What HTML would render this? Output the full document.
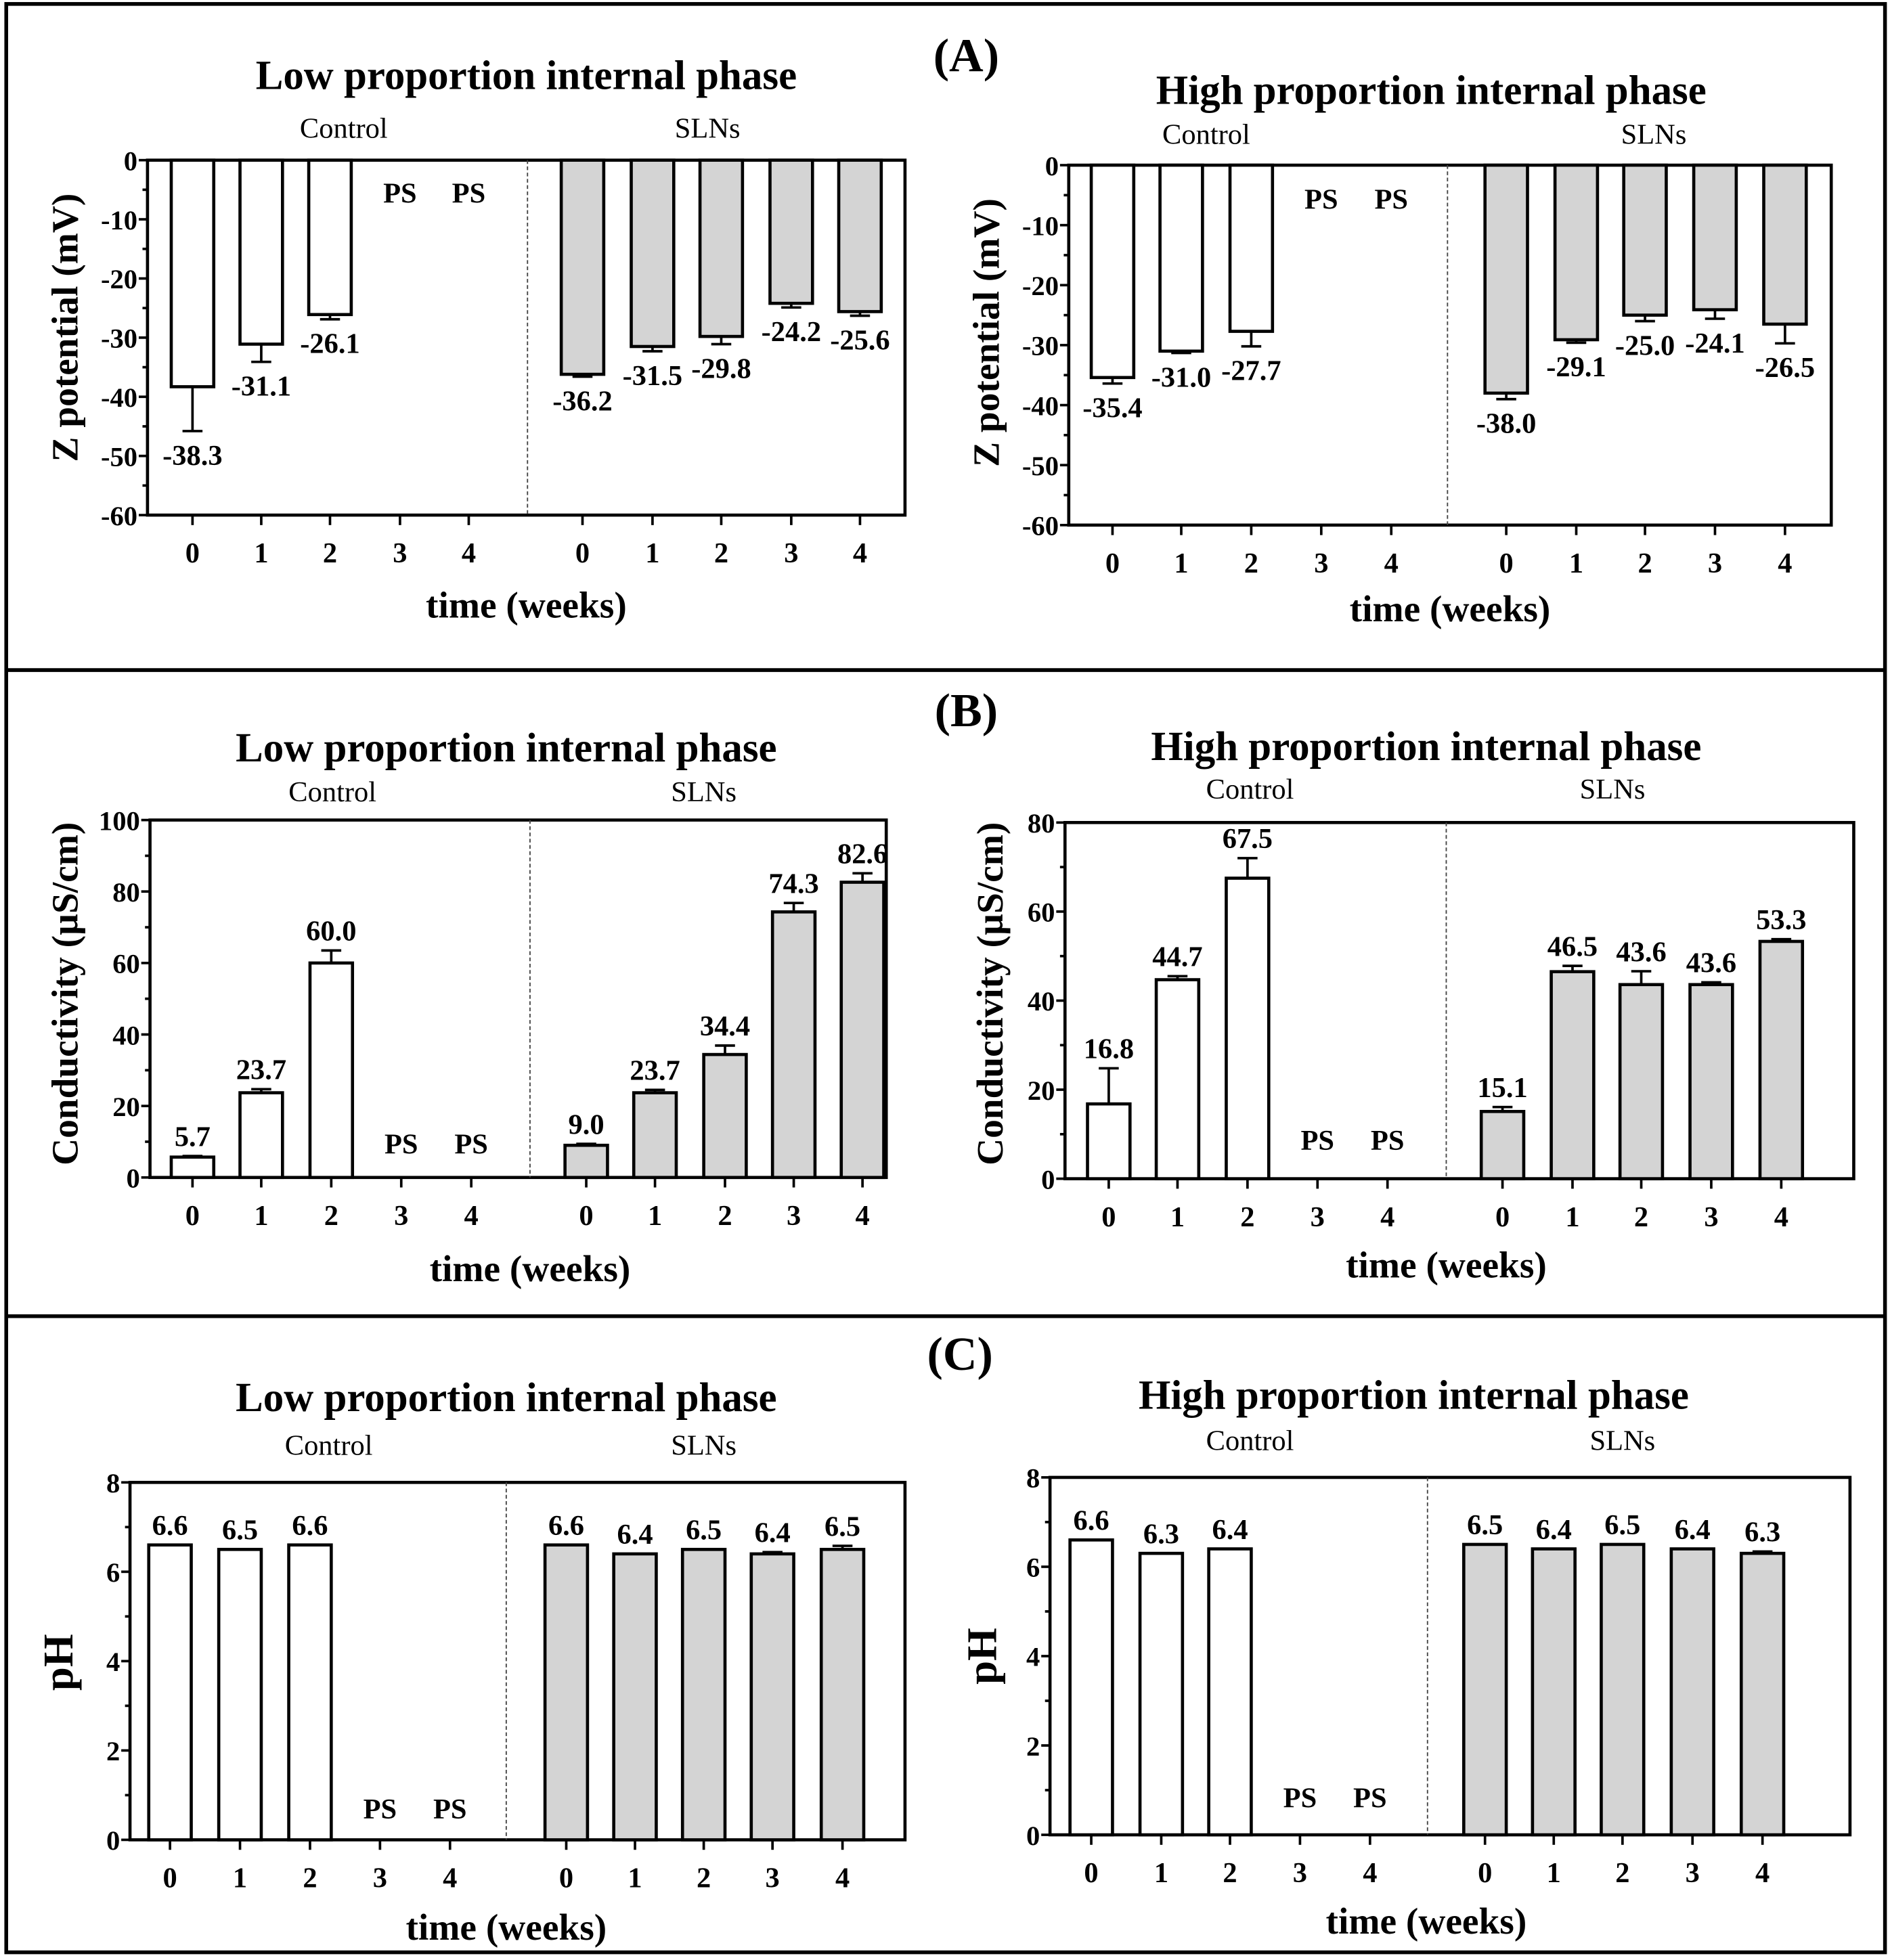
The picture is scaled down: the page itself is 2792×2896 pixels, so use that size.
<!DOCTYPE html>
<html><head><meta charset="utf-8"><style>
html,body{margin:0;padding:0;background:#fff}
svg{display:block}
text{font-family:"Liberation Serif",serif}
</style></head><body>
<svg id="fig" xmlns="http://www.w3.org/2000/svg" width="2792" height="2896" viewBox="0 0 1512 1568">
<rect x="5" y="3" width="1503" height="1559" fill="none" stroke="#000" stroke-width="3"/>
<line x1="5" y1="536" x2="1508" y2="536" stroke="#000" stroke-width="3"/>
<line x1="5" y1="1053" x2="1508" y2="1053" stroke="#000" stroke-width="3"/>
<text x="773" y="57" font-size="38" font-weight="bold" text-anchor="middle">(A)</text>
<text x="773" y="581" font-size="38" font-weight="bold" text-anchor="middle">(B)</text>
<text x="768" y="1096" font-size="38" font-weight="bold" text-anchor="middle">(C)</text>
</svg>
<script>
// ---- data ----
const weeks = ["0","1","2","3","4"];
const aLowControl = [-38.3, -31.1, -26.1, null, null];
const aLowControlErr = [7.5, 3.0, 0.8, 0, 0];
const aLowSLN = [-36.2, -31.5, -29.8, -24.2, -25.6];
const aLowSLNErr = [0.4, 0.8, 1.3, 0.7, 0.7];
const aHighControl = [-35.4, -31.0, -27.7, null, null];
const aHighControlErr = [1.0, 0.3, 2.5, 0, 0];
const aHighSLN = [-38.0, -29.1, -25.0, -24.1, -26.5];
const aHighSLNErr = [1.0, 0.5, 1.0, 1.5, 3.2];
const bLowControl = [5.7, 23.7, 60.0, null, null];
const bLowControlErr = [0.3, 1.0, 3.5, 0, 0];
const bLowSLN = [9.0, 23.7, 34.4, 74.3, 82.6];
const bLowSLNErr = [0.4, 0.8, 2.5, 2.5, 2.5];
const bHighControl = [16.8, 44.7, 67.5, null, null];
const bHighControlErr = [8.0, 0.8, 4.5, 0, 0];
const bHighSLN = [15.1, 46.5, 43.6, 43.6, 53.3];
const bHighSLNErr = [1.0, 1.3, 3.0, 0.5, 0.5];
const cLowControl = [6.6, 6.5, 6.6, null, null];
const cLowControlErr = [0, 0, 0, 0, 0];
const cLowSLN = [6.6, 6.4, 6.5, 6.4, 6.5];
const cLowSLNErr = [0, 0, 0, 0.04, 0.08];
const cHighControl = [6.6, 6.3, 6.4, null, null];
const cHighControlErr = [0, 0, 0, 0, 0];
const cHighSLN = [6.5, 6.4, 6.5, 6.4, 6.3];
const cHighSLNErr = [0, 0, 0, 0, 0.04];
const aTicks = [0, -10, -20, -30, -40, -50, -60];
const bLowTicks = [0, 20, 40, 60, 80, 100];
const bHighTicks = [0, 20, 40, 60, 80];
const cTicks = [0, 2, 4, 6, 8];

const NS = "http://www.w3.org/2000/svg";
const svg = document.getElementById("fig");
function mk(tag, attrs, parent, txt){
  const e = document.createElementNS(NS, tag);
  for (const k in attrs) e.setAttribute(k, attrs[k]);
  if (txt !== undefined) e.textContent = txt;
  (parent || svg).appendChild(e);
  return e;
}

function panel(p){
  const g = mk("g", {});
  
  
  const ymin = p.ymin, ymax = p.ymax;
  const yS = v => p.y1 - (v - ymin) / (ymax - ymin) * (p.y1 - p.y0);
  const zero = yS(0);
  const fr = mk("rect", {x:p.x0, y:p.y0, width:p.x1-p.x0, height:p.y1-p.y0, fill:"none", stroke:"#000", "stroke-width":2.5}, g);
  
  
  const dv = mk("line", {x1:p.div, x2:p.div, y1:p.y0, y2:p.y1, stroke:"#444", "stroke-width":1, "stroke-dasharray":"3,2"}, g);
  
  
  p.ticks.forEach((t, i) => {
    const y = yS(t);
    mk("line", {x1:p.x0-7, x2:p.x0, y1:y, y2:y, stroke:"#000", "stroke-width":2}, g);
    const tl = mk("text", {x:p.x0-8, y:y+8, "font-size":22, "font-weight":"bold", "text-anchor":"end"}, g, String(t));
    
    
    if (i < p.ticks.length - 1) {
      const m = (t + p.ticks[i+1]) / 2;
      mk("line", {x1:p.x0-4, x2:p.x0, y1:yS(m), y2:yS(m), stroke:"#000", "stroke-width":2}, g);
    }
  });
  const groups = [[p.ctl, p.ctlErr, p.cx, "#fff"], [p.sln, p.slnErr, p.sx, "#d4d4d4"]];
  groups.forEach(([vals, errs, xs, fill], gi) => {
    weeks.forEach((w, i) => {
      const x = xs[i];
      mk("line", {x1:x, x2:x, y1:p.y1, y2:p.y1+8, stroke:"#000", "stroke-width":2}, g);
      const xl = mk("text", {x:x, y:p.y1+38, "font-size":23, "font-weight":"bold", "text-anchor":"middle"}, g, w);
      
      
      const v = vals[i];
      if (v === null) {
        const ps = mk("text", {x:x, y:p.psY, "font-size":23, "font-weight":"bold", "text-anchor":"middle"}, g, "PS");
        
        
        return;
      }
      const yv = yS(v);
      const top = Math.min(yv, zero), h = Math.abs(yv - zero);
      const b = mk("rect", {x:x-17, y:top, width:34, height:h, fill:fill, stroke:"#000", "stroke-width":2.5}, g);
      
      
      const e = errs[i];
      const ye = yS(v + (v < 0 ? -e : e));
      if (e > 0) {
        mk("line", {x1:x, x2:x, y1:yv, y2:ye, stroke:"#000", "stroke-width":2}, g);
        mk("line", {x1:x-8, x2:x+8, y1:ye, y2:ye, stroke:"#000", "stroke-width":2}, g);
      }
      const lbl = v < 0 ? mk("text", {x:x, y:ye+27, "font-size":23, "font-weight":"bold", "text-anchor":"middle"}, g, v.toFixed(1))
                        : mk("text", {x:x, y:ye-8, "font-size":23, "font-weight":"bold", "text-anchor":"middle"}, g, v.toFixed(1));
      
      
    });
  });
  const tt = mk("text", {x:p.tx, y:p.ty, "font-size":33, "font-weight":"bold", "text-anchor":"middle"}, g, p.title);
  
  
  const c1 = mk("text", {x:p.ctlX, y:p.grpY, "font-size":23, "text-anchor":"middle"}, g, "Control");
  
  
  const c2 = mk("text", {x:p.slnX, y:p.grpY, "font-size":23, "text-anchor":"middle"}, g, "SLNs");
  
  
  const xlab = mk("text", {x:p.xlX, y:p.xlY, "font-size":30, "font-weight":"bold", "text-anchor":"middle"}, g, "time (weeks)");
  
  
  const ylab = mk("text", {x:0, y:0, "font-size":p.ylSize || 30, "font-weight":"bold", "text-anchor":"middle", transform:`translate(${p.ylX},${p.ylY}) rotate(-90)`}, g, p.ylabel);
  
  
}

const low = "Low proportion internal phase", high = "High proportion internal phase";
panel({name:"panel-a-low", x0:118, x1:724, y0:128, y1:412, ymin:-60, ymax:0, ticks:aTicks, div:422,
  cx:[154,209,264,320,375], sx:[466,522,577,633,688], ctl:aLowControl, ctlErr:aLowControlErr, sln:aLowSLN, slnErr:aLowSLNErr,
  psY:162, title:low, tx:421, ty:71, ctlX:275, slnX:566, grpY:110, xlX:421, xlY:494, ylX:62, ylY:262, ylabel:"Z potential (mV)"});
panel({name:"panel-a-high", x0:855, x1:1465, y0:132, y1:420, ymin:-60, ymax:0, ticks:aTicks, div:1158,
  cx:[890,945,1001,1057,1113], sx:[1205,1261,1316,1372,1428], ctl:aHighControl, ctlErr:aHighControlErr, sln:aHighSLN, slnErr:aHighSLNErr,
  psY:167, title:high, tx:1145, ty:83, ctlX:965, slnX:1323, grpY:115, xlX:1160, xlY:497, ylX:799, ylY:266, ylabel:"Z potential (mV)"});
panel({name:"panel-b-low", x0:120, x1:709, y0:656, y1:942, ymin:0, ymax:100, ticks:bLowTicks, div:424,
  cx:[154,209,265,321,377], sx:[469,524,580,635,690], ctl:bLowControl, ctlErr:bLowControlErr, sln:bLowSLN, slnErr:bLowSLNErr,
  psY:923, title:low, tx:405, ty:609, ctlX:266, slnX:563, grpY:641, xlX:424, xlY:1025, ylX:62, ylY:795, ylabel:"Conductivity (\u00b5S/cm)"});
panel({name:"panel-b-high", x0:852, x1:1483, y0:658, y1:943, ymin:0, ymax:80, ticks:bHighTicks, div:1157,
  cx:[887,942,998,1054,1110], sx:[1202,1258,1313,1369,1425], ctl:bHighControl, ctlErr:bHighControlErr, sln:bHighSLN, slnErr:bHighSLNErr,
  psY:920, title:high, tx:1141, ty:608, ctlX:1000, slnX:1290, grpY:639, xlX:1157, xlY:1022, ylX:802, ylY:795, ylabel:"Conductivity (\u00b5S/cm)"});
panel({name:"panel-c-low", x0:104, x1:724, y0:1186, y1:1472, ymin:0, ymax:8, ticks:cTicks, div:405,
  cx:[136,192,248,304,360], sx:[453,508,563,618,674], ctl:cLowControl, ctlErr:cLowControlErr, sln:cLowSLN, slnErr:cLowSLNErr,
  psY:1455, title:low, tx:405, ty:1129, ctlX:263, slnX:563, grpY:1164, xlX:405, xlY:1552, ylX:58, ylY:1330, ylabel:"pH", ylSize:34});
panel({name:"panel-c-high", x0:840, x1:1480, y0:1182, y1:1468, ymin:0, ymax:8, ticks:cTicks, div:1142,
  cx:[873,929,984,1040,1096], sx:[1188,1243,1298,1354,1410], ctl:cHighControl, ctlErr:cHighControlErr, sln:cHighSLN, slnErr:cHighSLNErr,
  psY:1446, title:high, tx:1131, ty:1127, ctlX:1000, slnX:1298, grpY:1160, xlX:1141, xlY:1547, ylX:797, ylY:1325, ylabel:"pH", ylSize:34});
</script>
</body></html>
